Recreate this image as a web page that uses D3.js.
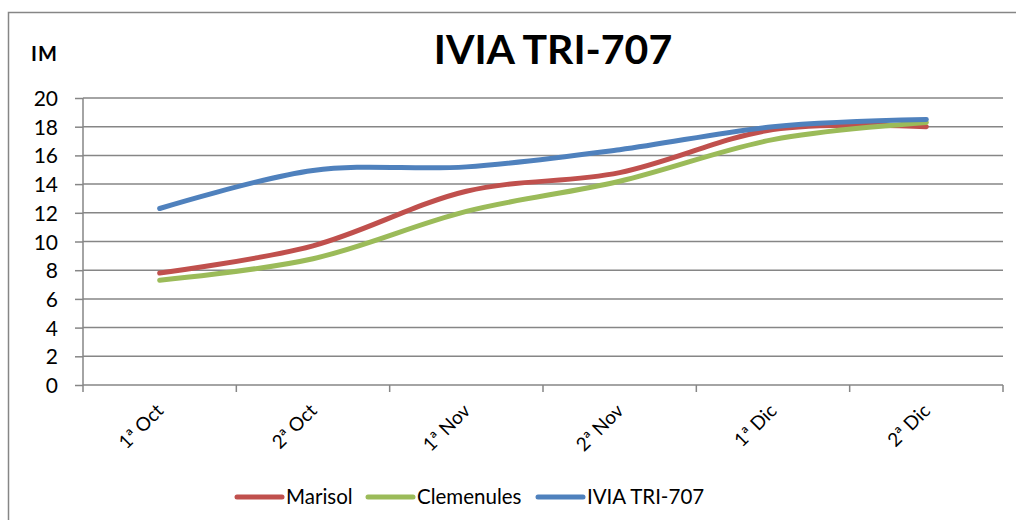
<!DOCTYPE html>
<html>
<head>
<meta charset="utf-8">
<script src="https://cdn.jsdelivr.net/npm/d3@7"></script>
<style>
  body { margin: 0; background: #fff; }
  text { font-family: Lato, "Open Sans", sans-serif; fill: #000; }
</style>
</head>
<body>
<svg id="chart" width="1016" height="520"></svg>
<script>
// Data
const categories = ["1ª Oct", "2ª Oct", "1ª Nov", "2ª Nov", "1ª Dic", "2ª Dic"];
const marisol = [7.8, 9.7, 13.5, 14.8, 17.8, 18.0];
const clemenules = [7.3, 8.8, 12.1, 14.2, 17.1, 18.3];
const ivia = [12.3, 14.95, 15.2, 16.4, 18.0, 18.5];
const yTicks = [0, 2, 4, 6, 8, 10, 12, 14, 16, 18, 20];

const seriesNames = ["Marisol", "Clemenules", "IVIA TRI-707"];
const seriesValues = [marisol, clemenules, ivia];
const colors = ["#C0504D", "#9BBB59", "#4F81BD"];

const margin = {top: 98, right: 13, bottom: 135, left: 83},
    width = 1016 - margin.left - margin.right,
    height = 520 - margin.top - margin.bottom;

const svg = d3.select("#chart");

// Outer chart frame (cropped at right and bottom)
svg.append("rect")
    .attr("x", 8.5).attr("y", 12.5)
    .attr("width", 1100).attr("height", 600)
    .attr("fill", "none")
    .attr("stroke", "#868686")
    .attr("stroke-width", 1.5);

// Title and axis label
svg.append("text")
    .attr("x", 553).attr("y", 64)
    .attr("text-anchor", "middle")
    .style("font-size", "41px")
    .style("font-weight", "bold")
    .text("IVIA TRI-707");

svg.append("text")
    .attr("x", 31).attr("y", 61)
    .style("font-size", "20px")
    .style("font-weight", "bold")
    .style("letter-spacing", "1px")
    .text("IM");

const g = svg.append("g")
    .attr("transform", `translate(${margin.left},${margin.top})`);

const xScale = d3.scaleBand()
    .domain(categories)
    .range([0, width]);

const yScale = d3.scaleLinear()
    .domain([0, 20])
    .range([height, 0]);

// Gridlines
g.append("g")
    .selectAll("line")
    .data(yTicks.filter(d => d > 0))
    .enter()
    .append("line")
    .attr("x1", 0).attr("x2", width)
    .attr("y1", d => yScale(d)).attr("y2", d => yScale(d))
    .attr("stroke", "#868686")
    .attr("stroke-width", 1.5);

// Y axis
const yAxis = g.append("g")
    .call(d3.axisLeft(yScale).tickValues(yTicks).tickSize(8).tickPadding(17));
yAxis.select(".domain").attr("stroke", "#868686").attr("stroke-width", 1.5).attr("d", `M0,${height}V0`);
yAxis.selectAll(".tick line").attr("stroke", "#868686").attr("stroke-width", 1.5);
yAxis.selectAll(".tick text")
    .style("font-size", "21px")
    .attr("dy", "0.36em");

// X axis with ticks on band edges
const xAxisG = g.append("g")
    .attr("transform", `translate(0,${height})`);
xAxisG.append("line")
    .attr("x1", 0).attr("x2", width)
    .attr("stroke", "#868686").attr("stroke-width", 1.5);
xAxisG.selectAll(".edge")
    .data(categories.concat([null]))
    .enter()
    .append("line")
    .attr("x1", (d, i) => i * xScale.step())
    .attr("x2", (d, i) => i * xScale.step())
    .attr("y1", 0).attr("y2", 7)
    .attr("stroke", "#868686").attr("stroke-width", 1.5);
xAxisG.selectAll(".lbl")
    .data(categories)
    .enter()
    .append("text")
    .attr("text-anchor", "end")
    .style("font-size", "19px")
    .attr("transform", d => `translate(${xScale(d) + xScale.bandwidth() / 2 + 5},${27}) rotate(-45)`)
    .text(d => d);

// Lines
const line = d3.line()
    .x((d, i) => xScale(categories[i]) + xScale.bandwidth() / 2)
    .y(d => yScale(d))
    .curve(d3.curveCatmullRom.alpha(0));

g.selectAll(".series")
    .data(seriesValues)
    .enter()
    .append("path")
    .attr("d", d => line(d))
    .attr("fill", "none")
    .attr("stroke", (d, i) => colors[i])
    .attr("stroke-width", 5)
    .attr("stroke-linecap", "round");

// Legend
const legendX = [237, 368, 538];
const legend = svg.selectAll(".legend")
    .data(seriesNames)
    .enter()
    .append("g")
    .attr("transform", (d, i) => `translate(${legendX[i]},497)`);

legend.append("line")
    .attr("x1", 0).attr("x2", 45)
    .attr("stroke", (d, i) => colors[i])
    .attr("stroke-width", 5)
    .attr("stroke-linecap", "round");

legend.append("text")
    .attr("x", 49)
    .attr("y", 7)
    .style("font-size", "20.5px")
    .text(d => d);
</script>
</body>
</html>
